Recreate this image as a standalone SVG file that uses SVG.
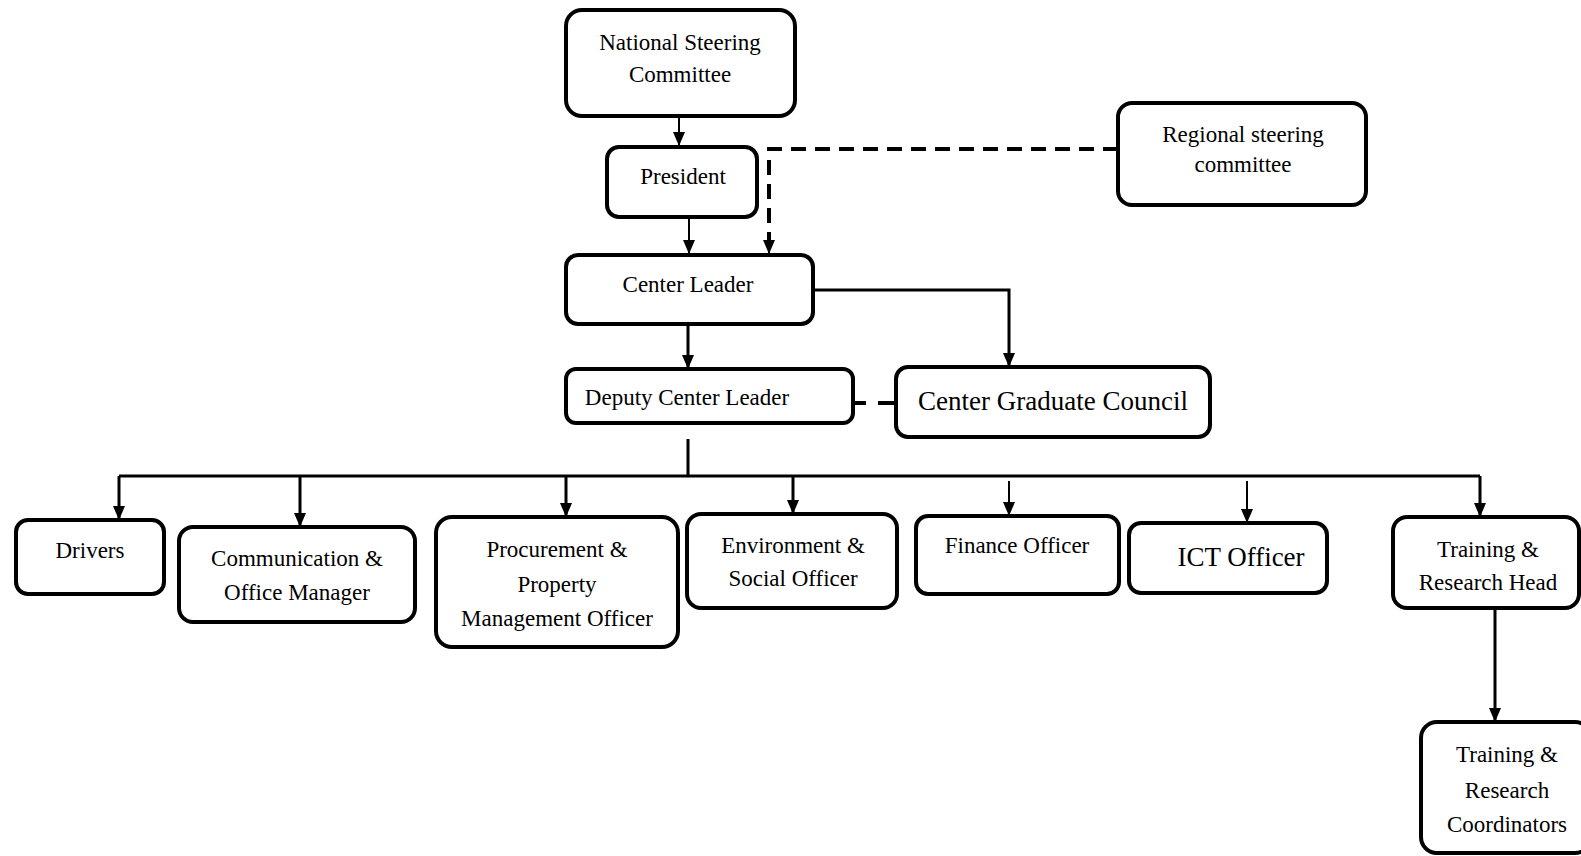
<svg xmlns="http://www.w3.org/2000/svg" width="1581" height="856" viewBox="0 0 1581 856">
<style>
.box{fill:#fff;stroke:#000;stroke-width:4}
.t{font-family:"Liberation Serif","Times New Roman",serif;font-size:23px;fill:#000;text-anchor:middle}
.big{font-size:27px}
.c{fill:none;stroke:#000;stroke-width:3}
.thin{stroke-width:2}
.dash{stroke-dasharray:15 9;stroke-width:4}
</style>
<defs>
<marker id="arr" markerUnits="userSpaceOnUse" markerWidth="14" markerHeight="12" refX="14" refY="6" orient="auto" viewBox="0 0 14 12">
<path d="M0,0 L14,6 L0,12 Z" fill="#000"/>
</marker>
</defs>
<rect width="1581" height="856" fill="#fff"/>
<g id="connectors">
<line class="c thin" x1="679" y1="117" x2="679" y2="146" marker-end="url(#arr)"/>
<line class="c thin" x1="689" y1="218" x2="689" y2="254" marker-end="url(#arr)"/>
<path class="c dash" d="M1118,149 H769 V252"/>
<line class="c thin" x1="769" y1="236" x2="769" y2="254" marker-end="url(#arr)"/>
<line class="c" x1="688" y1="324" x2="688" y2="369" marker-end="url(#arr)"/>
<path class="c" d="M813,290 H1009 V367" marker-end="url(#arr)"/>
<path class="c" style="stroke-width:4" d="M854,403 H866 M878,403 H896"/>
<path class="c" d="M688,439 V476"/>
<path class="c" d="M119,476 H1480"/>
<line class="c" x1="119" y1="476" x2="119" y2="520" marker-end="url(#arr)"/>
<line class="c" x1="300" y1="476" x2="300" y2="527" marker-end="url(#arr)"/>
<line class="c" x1="566" y1="476" x2="566" y2="517" marker-end="url(#arr)"/>
<line class="c" x1="793" y1="476" x2="793" y2="514" marker-end="url(#arr)"/>
<line class="c thin" x1="1009" y1="481" x2="1009" y2="516" marker-end="url(#arr)"/>
<line class="c thin" x1="1247" y1="481" x2="1247" y2="523" marker-end="url(#arr)"/>
<line class="c" x1="1480" y1="476" x2="1480" y2="517" marker-end="url(#arr)"/>
<line class="c" x1="1495" y1="608" x2="1495" y2="722" marker-end="url(#arr)"/>
</g>
<g id="n-nsc">
<rect class="box" x="566" y="10" width="229" height="106" rx="16"/>
<text class="t" x="680" y="50">National Steering</text>
<text class="t" x="680" y="82">Committee</text>
</g>
<g id="n-president">
<rect class="box" x="607" y="147" width="150" height="70" rx="12"/>
<text class="t" x="683" y="184">President</text>
</g>
<g id="n-regional">
<rect class="box" x="1118" y="103" width="248" height="102" rx="14"/>
<text class="t" x="1243" y="142">Regional steering</text>
<text class="t" x="1243" y="172">committee</text>
</g>
<g id="n-centerleader">
<rect class="box" x="566" y="255" width="247" height="69" rx="12"/>
<text class="t" x="688" y="292">Center Leader</text>
</g>
<g id="n-deputy">
<rect class="box" x="566" y="369" width="287" height="54" rx="10"/>
<text class="t" x="687" y="405">Deputy Center Leader</text>
</g>
<g id="n-cgc">
<rect class="box" x="896" y="367" width="314" height="70" rx="12"/>
<text class="t big" x="1053" y="410">Center Graduate Council</text>
</g>
<g id="n-drivers">
<rect class="box" x="16" y="520" width="148" height="74" rx="12"/>
<text class="t" x="90" y="558">Drivers</text>
</g>
<g id="n-comm">
<rect class="box" x="179" y="527" width="236" height="95" rx="14"/>
<text class="t" x="297" y="566">Communication &amp;</text>
<text class="t" x="297" y="600">Office Manager</text>
</g>
<g id="n-proc">
<rect class="box" x="436" y="517" width="242" height="130" rx="16"/>
<text class="t" x="557" y="557">Procurement &amp;</text>
<text class="t" x="557" y="592">Property</text>
<text class="t" x="557" y="626">Management Officer</text>
</g>
<g id="n-env">
<rect class="box" x="687" y="514" width="210" height="94" rx="14"/>
<text class="t" x="793" y="553">Environment &amp;</text>
<text class="t" x="793" y="586">Social Officer</text>
</g>
<g id="n-finance">
<rect class="box" x="916" y="516" width="203" height="78" rx="12"/>
<text class="t" x="1017" y="553">Finance Officer</text>
</g>
<g id="n-ict">
<rect class="box" x="1129" y="523" width="198" height="70" rx="12"/>
<text class="t big" x="1241" y="566">ICT Officer</text>
</g>
<g id="n-trhead">
<rect class="box" x="1393" y="517" width="186" height="91" rx="14"/>
<text class="t" x="1488" y="557">Training &amp;</text>
<text class="t" x="1488" y="590">Research Head</text>
</g>
<g id="n-trcoord">
<rect class="box" x="1421" y="722" width="170" height="131" rx="16"/>
<text class="t" x="1507" y="762">Training &amp;</text>
<text class="t" x="1507" y="798">Research</text>
<text class="t" x="1507" y="832">Coordinators</text>
</g>
</svg>
